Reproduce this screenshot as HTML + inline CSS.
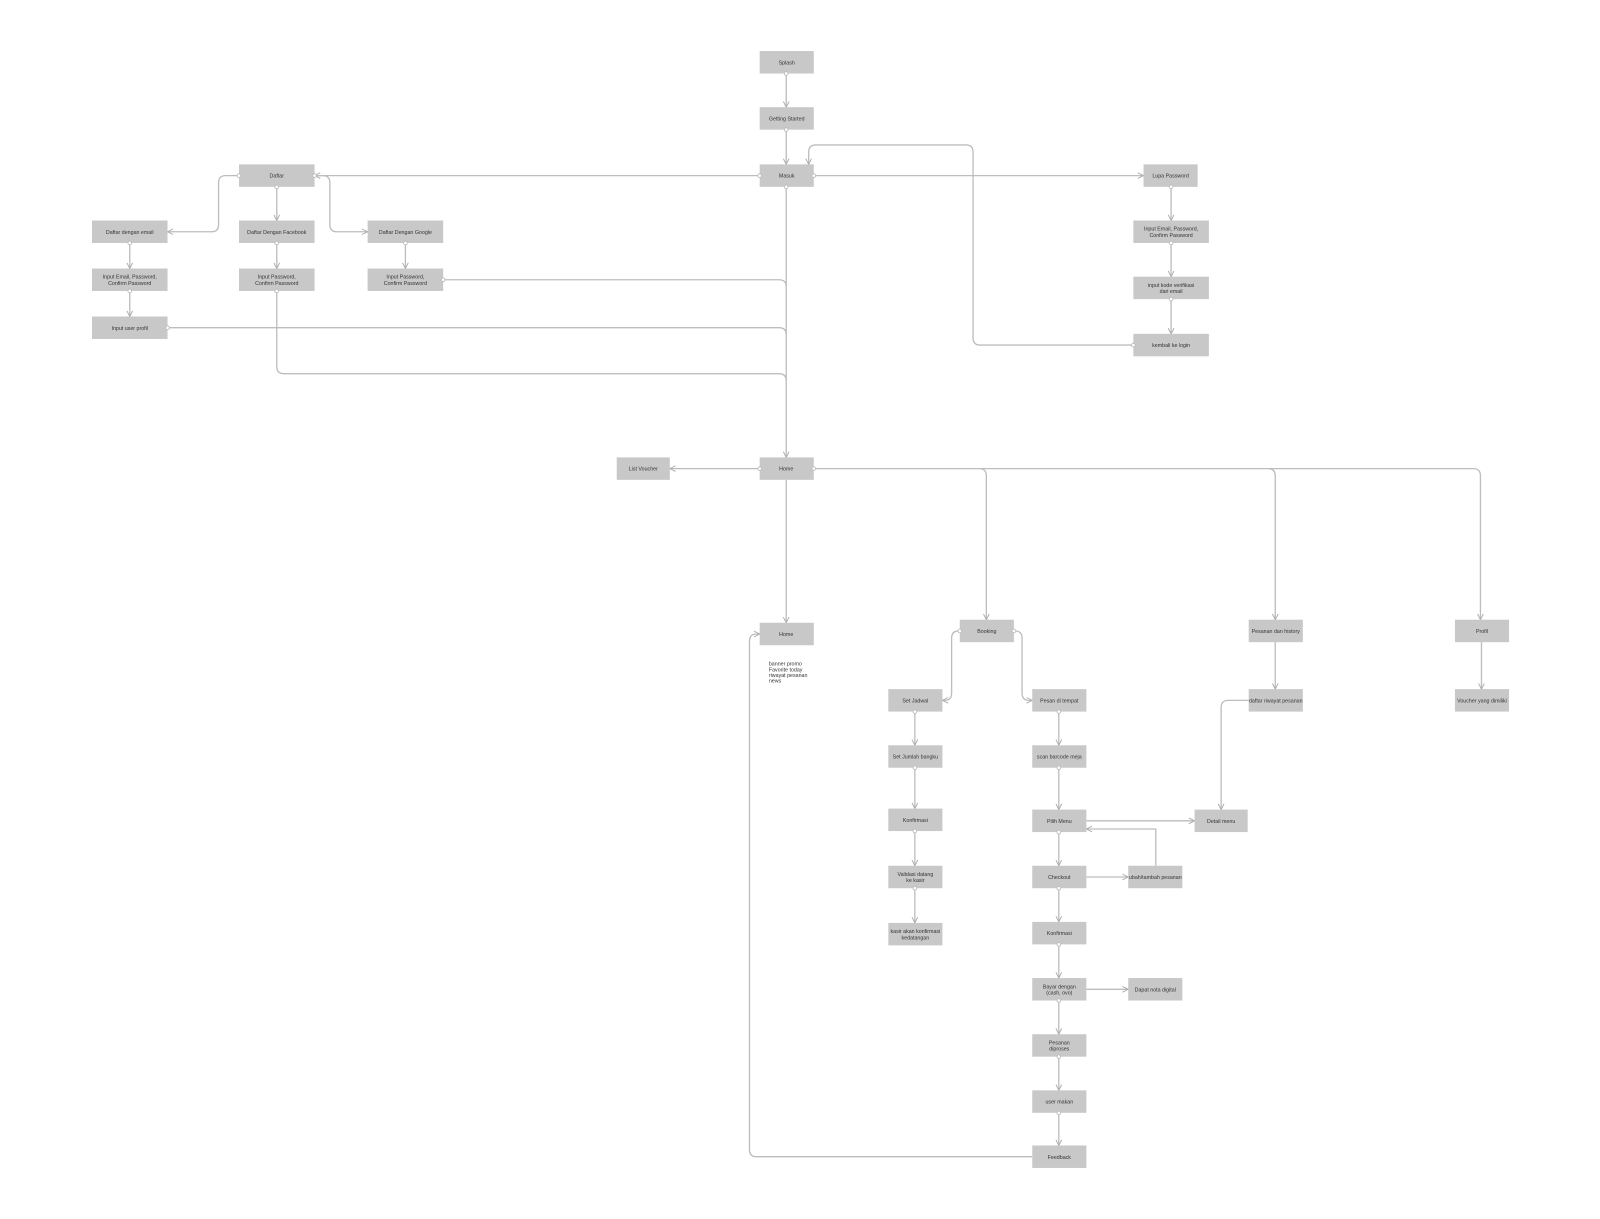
<!DOCTYPE html>
<html><head><meta charset="utf-8"><style>
html,body{margin:0;padding:0;background:#fff;width:1600px;height:1219px;overflow:hidden}
svg{display:block}
text{font-family:"Liberation Sans",sans-serif;font-size:5.2px;fill:#333;text-anchor:middle}
.n{fill:#c8c8c8}
.e{fill:none;stroke:#bdbdbd;stroke-width:1.3}
.d{fill:#fff;stroke:#bdbdbd;stroke-width:0.9}
</style></head><body>
<svg width="1600" height="1219" viewBox="0 0 1567 1194" xmlns="http://www.w3.org/2000/svg">
<defs>
<marker id="a" viewBox="0 0 10 10" refX="9" refY="5" markerWidth="7" markerHeight="7" orient="auto-start-reverse" markerUnits="userSpaceOnUse"><path d="M1,1 L9,5 L1,9" fill="none" stroke="#aaa" stroke-width="1.3"/></marker>
</defs>
<g class="e">
<path d="M770,72 V105" marker-end="url(#a)"/>
<path d="M770,127 V161" marker-end="url(#a)"/>
<path d="M797,172 H1120" marker-end="url(#a)"/>
<path d="M744,172 H308" marker-end="url(#a)"/>
<path d="M234,172 H221 Q214,172 214,179 V220 Q214,227 207,227 H164" marker-end="url(#a)"/>
<path d="M308,172 H316 Q323,172 323,179 V220 Q323,227 330,227 H360" marker-end="url(#a)"/>
<path d="M271,183 V216" marker-end="url(#a)"/>
<path d="M127,238 V263" marker-end="url(#a)"/>
<path d="M271,238 V263" marker-end="url(#a)"/>
<path d="M397,238 V263" marker-end="url(#a)"/>
<path d="M127,285 V310" marker-end="url(#a)"/>
<path d="M1147,183 V216" marker-end="url(#a)"/>
<path d="M1147,238 V271" marker-end="url(#a)"/>
<path d="M1147,293 V327" marker-end="url(#a)"/>
<path d="M1110,338 H960 Q953,338 953,331 V149 Q953,142 946,142 H799 Q792,142 792,149 V161" marker-end="url(#a)"/>
<path d="M770,183 V448" marker-end="url(#a)"/>
<path d="M434,274 H763 Q770,274 770,281"/>
<path d="M164,321 H763 Q770,321 770,328"/>
<path d="M271,285 V359 Q271,366 278,366 H763 Q770,366 770,373"/>
<path d="M744,459 H656" marker-end="url(#a)"/>
<path d="M797,459 H1443 Q1450,459 1450,466 V607" marker-end="url(#a)"/>
<path d="M959,459 Q966,459 966,466 V607" marker-end="url(#a)"/>
<path d="M1242,459 Q1249,459 1249,466 V607" marker-end="url(#a)"/>
<path d="M770,470 V610" marker-end="url(#a)"/>
<path d="M940,618 H939 Q932,618 932,625 V679 Q932,686 925,686 H923" marker-end="url(#a)"/>
<path d="M993,618 H994 Q1001,618 1001,625 V679 Q1001,686 1008,686 H1011" marker-end="url(#a)"/>
<path d="M1249,629 V675" marker-end="url(#a)"/>
<path d="M1451,629 V675" marker-end="url(#a)"/>
<path d="M1223,686 H1203 Q1196,686 1196,693 V793" marker-end="url(#a)"/>
<path d="M896,697 V730" marker-end="url(#a)"/>
<path d="M896,752 V792" marker-end="url(#a)"/>
<path d="M896,814 V848" marker-end="url(#a)"/>
<path d="M896,870 V904" marker-end="url(#a)"/>
<path d="M1037,697 V730" marker-end="url(#a)"/>
<path d="M1037,752 V793" marker-end="url(#a)"/>
<path d="M1064,804 H1170" marker-end="url(#a)"/>
<path d="M1132,848 V812 H1064" marker-end="url(#a)"/>
<path d="M1037,815 V848" marker-end="url(#a)"/>
<path d="M1064,859 H1105" marker-end="url(#a)"/>
<path d="M1037,870 V903" marker-end="url(#a)"/>
<path d="M1037,925 V958" marker-end="url(#a)"/>
<path d="M1064,969 H1105" marker-end="url(#a)"/>
<path d="M1037,980 V1013" marker-end="url(#a)"/>
<path d="M1037,1035 V1068" marker-end="url(#a)"/>
<path d="M1037,1090 V1122" marker-end="url(#a)"/>
<path d="M1011,1133 H741 Q734,1133 734,1126 V628 Q734,621 741,621 H744" marker-end="url(#a)"/>
</g>
<g>
<rect class="n" x="744" y="50" width="53" height="22"/><text x="770.5" y="63">Splash</text>
<rect class="n" x="744" y="105" width="53" height="22"/><text x="770.5" y="118">Getting Started</text>
<rect class="n" x="744" y="161" width="53" height="22"/><text x="770.5" y="174">Masuk</text>
<rect class="n" x="234" y="161" width="74" height="22"/><text x="271" y="174">Daftar</text>
<rect class="n" x="1120" y="161" width="53" height="22"/><text x="1146.5" y="174">Lupa Password</text>
<rect class="n" x="90" y="216" width="74" height="22"/><text x="127" y="229">Daftar dengan email</text>
<rect class="n" x="234" y="216" width="74" height="22"/><text x="271" y="229">Daftar Dengan Facebook</text>
<rect class="n" x="360" y="216" width="74" height="22"/><text x="397" y="229">Daftar Dengan Google</text>
<rect class="n" x="90" y="263" width="74" height="22"/><text x="127" y="273">Input Email, Password,</text><text x="127" y="279">Confirm Password</text>
<rect class="n" x="234" y="263" width="74" height="22"/><text x="271" y="273">Input Password,</text><text x="271" y="279">Confirm Password</text>
<rect class="n" x="360" y="263" width="74" height="22"/><text x="397" y="273">Input Password,</text><text x="397" y="279">Confirm Password</text>
<rect class="n" x="90" y="310" width="74" height="22"/><text x="127" y="323">Input user profil</text>
<rect class="n" x="1110" y="216" width="74" height="22"/><text x="1147" y="226">Input Email, Password,</text><text x="1147" y="232">Confirm Password</text>
<rect class="n" x="1110" y="271" width="74" height="22"/><text x="1147" y="281">input kode verifikasi</text><text x="1147" y="287">dari email</text>
<rect class="n" x="1110" y="327" width="74" height="22"/><text x="1147" y="340">kembali ke login</text>
<rect class="n" x="604" y="448" width="52" height="22"/><text x="630" y="461">List Voucher</text>
<rect class="n" x="744" y="448" width="53" height="22"/><text x="770" y="461">Home</text>
<rect class="n" x="744" y="610" width="53" height="22"/><text x="770" y="623">Home</text>
<text x="753" y="652" style="text-anchor:start">banner promo</text>
<text x="753" y="657.5" style="text-anchor:start">Favorite today</text>
<text x="753" y="663" style="text-anchor:start">riwayat pesanan</text>
<text x="753" y="668.5" style="text-anchor:start">news</text>
<rect class="n" x="940" y="607" width="53" height="22"/><text x="966.5" y="620">Booking</text>
<rect class="n" x="1223" y="607" width="53" height="22"/><text x="1249.5" y="620">Pesanan dan history</text>
<rect class="n" x="1425" y="607" width="53" height="22"/><text x="1451.5" y="620">Profil</text>
<rect class="n" x="870" y="675" width="53" height="22"/><text x="896.5" y="688">Set Jadwal</text>
<rect class="n" x="1011" y="675" width="53" height="22"/><text x="1037.5" y="688">Pesan di tempat</text>
<rect class="n" x="1223" y="675" width="53" height="22"/><text x="1249.5" y="688">daftar riwayat pesanan</text>
<rect class="n" x="1425" y="675" width="53" height="22"/><text x="1451.5" y="688">Voucher yang dimiliki</text>
<rect class="n" x="870" y="730" width="53" height="22"/><text x="896.5" y="743">Set Jumlah bangku</text>
<rect class="n" x="1011" y="730" width="53" height="22"/><text x="1037.5" y="743">scan barcode meja</text>
<rect class="n" x="870" y="792" width="53" height="22"/><text x="896.5" y="805">Konfirmasi</text>
<rect class="n" x="1011" y="793" width="53" height="22"/><text x="1037.5" y="806">Pilih Menu</text>
<rect class="n" x="1170" y="793" width="52" height="22"/><text x="1196" y="806">Detail menu</text>
<rect class="n" x="870" y="848" width="53" height="22"/><text x="896.5" y="858">Validasi datang</text><text x="896.5" y="864">ke kasir</text>
<rect class="n" x="1011" y="848" width="53" height="22"/><text x="1037.5" y="861">Checkout</text>
<rect class="n" x="1105" y="848" width="53" height="22"/><text x="1131.5" y="861">ubah/tambah pesanan</text>
<rect class="n" x="870" y="904" width="53" height="22"/><text x="896.5" y="914">kasir akan konfirmasi</text><text x="896.5" y="920">kedatangan</text>
<rect class="n" x="1011" y="903" width="53" height="22"/><text x="1037.5" y="916">Konfirmasi</text>
<rect class="n" x="1011" y="958" width="53" height="22"/><text x="1037.5" y="968">Bayar dengan</text><text x="1037.5" y="974">(cash, ovo)</text>
<rect class="n" x="1105" y="958" width="53" height="22"/><text x="1131.5" y="971">Dapat nota digital</text>
<rect class="n" x="1011" y="1013" width="53" height="22"/><text x="1037.5" y="1023">Pesanan</text><text x="1037.5" y="1029">diproses</text>
<rect class="n" x="1011" y="1068" width="53" height="22"/><text x="1037.5" y="1081">user makan</text>
<rect class="n" x="1011" y="1122" width="53" height="22"/><text x="1037.5" y="1135">Feedback</text>
</g>
<g>
<circle class="d" cx="770" cy="72" r="1.8"/><circle class="d" cx="770" cy="127" r="1.8"/>
<circle class="d" cx="797" cy="172" r="1.8"/><circle class="d" cx="744" cy="172" r="1.8"/><circle class="d" cx="770" cy="183" r="1.8"/>
<circle class="d" cx="234" cy="172" r="1.8"/><circle class="d" cx="308" cy="172" r="1.8"/><circle class="d" cx="271" cy="183" r="1.8"/>
<circle class="d" cx="127" cy="238" r="1.8"/><circle class="d" cx="271" cy="238" r="1.8"/><circle class="d" cx="397" cy="238" r="1.8"/>
<circle class="d" cx="127" cy="285" r="1.8"/><circle class="d" cx="271" cy="285" r="1.8"/><circle class="d" cx="434" cy="274" r="1.8"/><circle class="d" cx="164" cy="321" r="1.8"/>
<circle class="d" cx="1147" cy="183" r="1.8"/><circle class="d" cx="1147" cy="238" r="1.8"/><circle class="d" cx="1147" cy="293" r="1.8"/><circle class="d" cx="1110" cy="338" r="1.8"/>
<circle class="d" cx="744" cy="459" r="1.8"/><circle class="d" cx="797" cy="459" r="1.8"/>
<circle class="d" cx="940" cy="618" r="1.8"/><circle class="d" cx="993" cy="618" r="1.8"/>
<circle class="d" cx="896" cy="697" r="1.8"/><circle class="d" cx="896" cy="752" r="1.8"/><circle class="d" cx="896" cy="814" r="1.8"/><circle class="d" cx="896" cy="870" r="1.8"/>
<circle class="d" cx="1037" cy="697" r="1.8"/><circle class="d" cx="1037" cy="752" r="1.8"/><circle class="d" cx="1037" cy="815" r="1.8"/><circle class="d" cx="1037" cy="870" r="1.8"/>
<circle class="d" cx="1037" cy="925" r="1.8"/><circle class="d" cx="1037" cy="980" r="1.8"/><circle class="d" cx="1037" cy="1035" r="1.8"/><circle class="d" cx="1037" cy="1090" r="1.8"/>
</g>
</svg>
</body></html>
